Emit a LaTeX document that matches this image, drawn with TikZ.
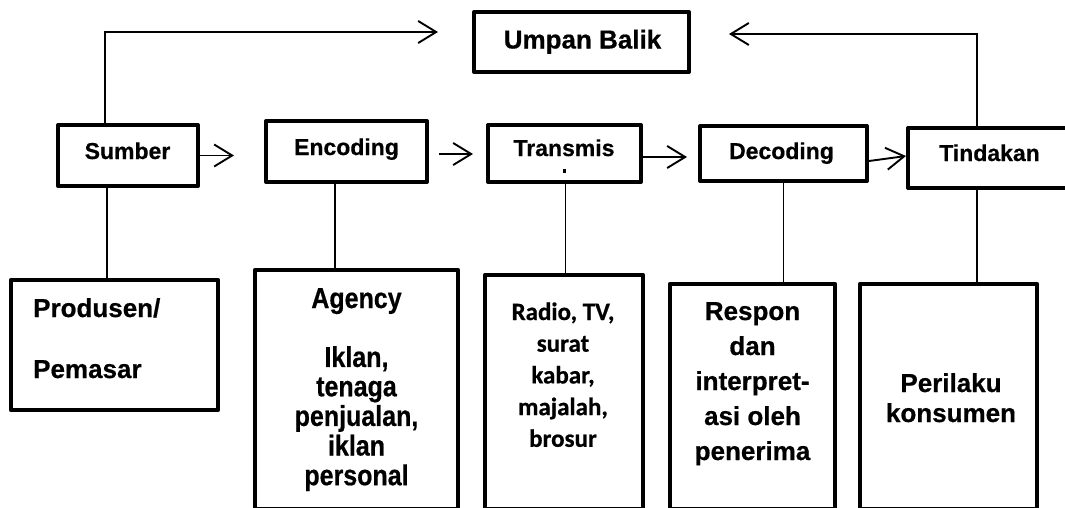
\documentclass[tikz,border=0pt]{standalone}
\usepackage{fontspec}
\usepackage{graphicx}
\setmainfont{Liberation Sans}[BoldFeatures={FakeBold=0.6}]
\newfontfamily\carlito{Carlito}[BoldFeatures={FakeBold=0.6}]
\usetikzlibrary{arrows.meta}
\begin{document}
\begin{tikzpicture}[x=1pt,y=-1pt,
  boxtop/.style={draw, line width=4pt, line join=round, inner sep=0pt},
  boxlow/.style={draw, line width=4.5pt, line join=round, inner sep=0pt},
  lbl/.style={inner sep=0pt, anchor=base},
  toplbl/.style={lbl, font=\fontsize{23}{28}\selectfont\bfseries},
  conn/.style={line width=1.9pt},
  arr/.style={conn, -{Straight Barb[length=18pt,width=22pt]}}]
\useasboundingbox (0,0) rectangle (1065,507);
\clip (0,0) rectangle (1065,507);
\fill[white] (0,0) rectangle (1065,507);

% feedback box
\node[boxtop, minimum width=215pt, minimum height=60pt] (umpan) at (581.5,42) {};
\node[lbl, font=\fontsize{26}{30}\selectfont\bfseries] (umpantxt) at (582.5,48.5) {Umpan Balik};

% process chain
\node[boxtop, minimum width=140pt, minimum height=61pt] (sumber)   at (128,155.5) {};
\node[boxtop, minimum width=161pt, minimum height=61pt] (encoding) at (346.5,151.5) {};
\node[boxtop, minimum width=153pt, minimum height=57pt] (transmis) at (564.5,153.5) {};
\node[boxtop, minimum width=167pt, minimum height=55pt] (decoding) at (783.5,153.5) {};
\node[boxtop, minimum width=167pt, minimum height=60pt] (tindakan) at (991.5,158) {};

\node[toplbl] (sumbertxt)   at (127.5,159) {Sumber};
\node[toplbl] (encodingtxt) at (346.5,155) {Encoding};
\node[toplbl] (transmistxt) at (564,156)   {Transmis};
\node[toplbl] (decodingtxt) at (781.5,159) {Decoding};
\node[toplbl] (tindakantxt) at (989.5,161) {Tindakan};
% wrapped last letter, only its dot shows
\fill (562.5,169) rectangle (565.5,172.5);

% detail boxes
\node[boxlow, minimum width=207pt, minimum height=130pt] (produsen) at (114.5,345) {};
\node[boxlow, minimum width=203pt, minimum height=239pt] (agency)   at (356.5,389.5) {};
\node[boxlow, minimum width=158pt, minimum height=234pt] (radio)    at (564,392) {};
\node[boxlow, minimum width=165pt, minimum height=225pt] (respon)   at (752.5,396.5) {};
\node[boxlow, minimum width=177pt, minimum height=225pt] (perilaku) at (948.5,396.5) {};

\node[inner sep=0pt, anchor=base west, font=\fontsize{26}{30.5}\selectfont\bfseries] (produsentxt) at (33,317)
  {\begin{tabular}[t]{@{}l@{}}Produsen/\\ \\ Pemasar\end{tabular}};
\node[lbl, font=\fontsize{25}{25.5}\selectfont\bfseries] (agencytxt) at (356.5,308)
  {\scalebox{1}[1.15]{\begin{tabular}[t]{@{}c@{}}Agency\\ \\ Iklan,\\ tenaga\\ penjualan,\\ iklan\\ personal\end{tabular}}};
\node[lbl, font=\carlito\fontsize{25}{31.7}\selectfont\bfseries] (radiotxt) at (563,320)
  {\begin{tabular}[t]{@{}c@{}}Radio, TV,\\ surat\\ kabar,\\ majalah,\\ brosur\end{tabular}};
\node[lbl, font=\fontsize{26}{35}\selectfont\bfseries] (respontxt) at (752.5,320)
  {\begin{tabular}[t]{@{}c@{}}Respon\\ dan\\ interpret-\\ asi oleh\\ penerima\end{tabular}};
\node[lbl, font=\fontsize{26}{30}\selectfont\bfseries] (perilakutxt) at (951,392)
  {\begin{tabular}[t]{@{}c@{}}Perilaku\\ konsumen\end{tabular}};

% arrows along the chain
\draw[arr, shorten >=30pt] (sumber.east) -- (sumber.east -| encoding.west);
\draw[arr, shorten <=10pt, shorten >=13pt] ([yshift=-2.5pt]encoding.east) -- ([yshift=-2.5pt]encoding.east -| transmis.west);
\draw[arr, shorten >=11pt] ([yshift=-3.5pt]transmis.east) -- ([yshift=-3.5pt]transmis.east -| decoding.west);
\draw[arr] ([yshift=-7.5pt]decoding.east) -- ([yshift=2pt]tindakan.west);

% feedback loops
\draw[arr, shorten >=34pt] ([xshift=-23pt]sumber.north) |- ([yshift=10pt]umpan.west);
\draw[arr, shorten >=38pt] ([xshift=-14.5pt]tindakan.north) |- ([yshift=8pt]umpan.east);

% links to the detail boxes
\draw[conn] ([xshift=-21pt]sumber.south) -- ([xshift=-21pt]sumber.south |- produsen.north);
\draw[conn] ([xshift=-11.5pt]encoding.south) -- ([xshift=-11.5pt]encoding.south |- agency.north);
\draw[conn] ([xshift=1pt]transmis.south) -- ([xshift=1pt]transmis.south |- radio.north);
\draw[conn] (decoding.south) -- (decoding.south |- respon.north);
\draw[conn] ([xshift=-14.5pt]tindakan.south) -- ([xshift=-14.5pt]tindakan.south |- perilaku.north);
\end{tikzpicture}
\end{document}
